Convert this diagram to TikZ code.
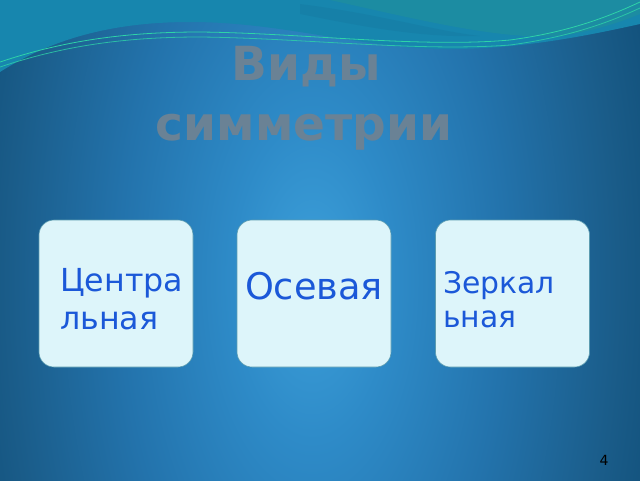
\documentclass[tikz,border=0pt]{standalone}
\usepackage{fontspec}
\setmainfont{DejaVu Sans}
\definecolor{bgcA}{HTML}{3DA0DA}
\definecolor{bgcB}{HTML}{2E8BC8}
\definecolor{bgcC}{HTML}{2373AC}
\definecolor{bgcD}{HTML}{1A5C89}
\definecolor{bgcE}{HTML}{0E4C75}
\definecolor{bgcF}{HTML}{0B4266}
\definecolor{bandteal}{HTML}{1786AE}
\definecolor{bandgreen}{HTML}{20909A}
\definecolor{wavegreen}{HTML}{2ED3A8}
\definecolor{titlegrey}{HTML}{6A8295}
\definecolor{boxfill}{HTML}{DDF5FA}
\definecolor{boxline}{HTML}{5C9CB0}
\definecolor{txtblue}{HTML}{1B58D8}
\pgfdeclareradialshading{bgshade}{\pgfpoint{0bp}{0bp}}{color(0bp)=(bgcA); color(5bp)=(bgcB); color(12bp)=(bgcC); color(19bp)=(bgcD); color(24bp)=(bgcE); color(30bp)=(bgcF); color(50bp)=(bgcF)}
\tikzset{
  card/.style={draw=boxline, line width=0.6pt, fill=boxfill, rounded corners=15pt, minimum width=154pt, minimum height=147pt, inner sep=0pt},
  cardtext/.style={text=txtblue, inner sep=0pt, anchor=base west},
  titletext/.style={text=titlegrey, font=\fontsize{47}{56}\selectfont\bfseries, inner sep=0pt, anchor=base},
  waveline/.style={draw=wavegreen, line width=0.8pt}
}
\begin{document}
\begin{tikzpicture}[x=1pt,y=-1pt]
\useasboundingbox (0,0) rectangle (640,480);
\begin{scope}
\clip (0,0) rectangle (640,480);
\fill[bgcF] (0,0) rectangle (640,480);
\node[inner sep=0pt, outer sep=0pt, xscale=16, yscale=32] (bg) at (312,280) {\pgfuseshading{bgshade}};
% top band
\fill[bandteal] (0,0) -- (0,72) .. controls (50,40) and (110,22) .. (190,22) .. controls (280,22) and (350,46) .. (440,49) .. controls (520,50) and (590,35) .. (640,24) -- (640,0) -- cycle;
\fill[bandgreen, opacity=0.6] (330,0) .. controls (420,20) and (500,40) .. (560,36) .. controls (600,30) and (625,20) .. (640,14) -- (640,0) -- cycle;
\fill[bgcF, opacity=0.08] (300,4) .. controls (380,14) and (430,30) .. (480,36) .. controls (420,38) and (360,26) .. (300,14) -- cycle;
% wave lines
\draw[waveline] (0,62) .. controls (60,42) and (120,32) .. (200,32) .. controls (300,33) and (420,48) .. (510,40) .. controls (570,32) and (610,16) .. (640,2);
\draw[waveline, opacity=0.8] (0,67) .. controls (60,47) and (120,37) .. (200,37) .. controls (300,38) and (420,52) .. (510,45) .. controls (570,37) and (610,22) .. (640,8);
\end{scope}
% title
\node[titletext] (t1) at (306,80) {Виды};
\node[titletext] (t2) at (304,140) {симметрии};
% cards
\node[card] (b1) at (116,293.5) {};
\node[card] (b2) at (314,293.5) {};
\node[card] (b3) at (512.5,293.5) {};
\node[cardtext, font=\fontsize{31.7}{37}\selectfont] (l1a) at (60,291) {Центра};
\node[cardtext, font=\fontsize{31.7}{37}\selectfont] (l1b) at (60,329) {льная};
\node[text=txtblue, inner sep=0pt, anchor=base, font=\fontsize{36.7}{43}\selectfont] (l2) at (314,299) {Осевая};
\node[cardtext, font=\fontsize{29.8}{35}\selectfont] (l3a) at (443,293) {Зеркал};
\node[cardtext, font=\fontsize{29.8}{35}\selectfont] (l3b) at (443,327) {ьная};
\node[text=black, inner sep=0pt, anchor=base, font=\fontsize{14}{16}\selectfont] (pg) at (604,465) {4};
\end{tikzpicture}
\end{document}
